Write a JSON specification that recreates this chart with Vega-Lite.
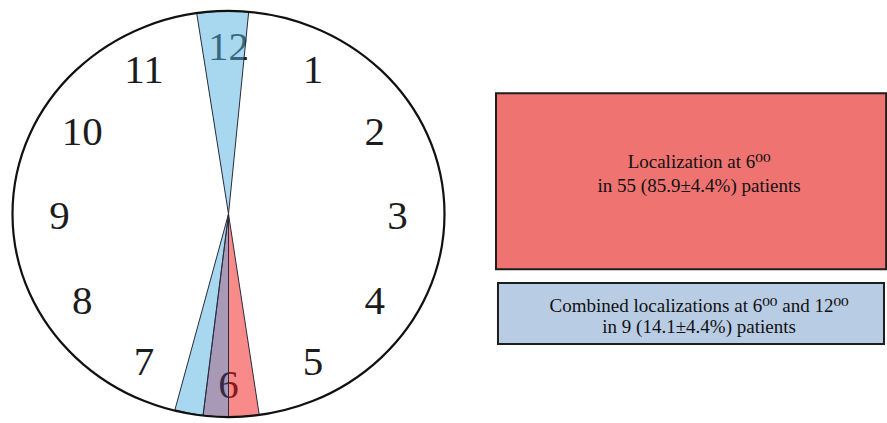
{
  "$schema": "https://vega.github.io/schema/vega-lite/v6.json",
  "background": "white",
  "padding": {"left": 0, "top": 5, "right": 0, "bottom": 0},
  "spacing": 0,
  "config": {"view": {"stroke": null}},
  "resolve": {"scale": {"color": "independent"}},
  "datasets": {
    "hours": [
      {"hour": 1, "label": "1"}, {"hour": 2, "label": "2"}, {"hour": 3, "label": "3"},
      {"hour": 4, "label": "4"}, {"hour": 5, "label": "5"}, {"hour": 6, "label": "6"},
      {"hour": 7, "label": "7"}, {"hour": 8, "label": "8"}, {"hour": 9, "label": "9"},
      {"hour": 10, "label": "10"}, {"hour": 11, "label": "11"}, {"hour": 12, "label": "12"}
    ],
    "wedges": [
      {"start": -0.30, "end": 0.19, "zone": "12 only"},
      {"start": 5.71, "end": 6.0, "zone": "6 only"},
      {"start": 6.0, "end": 6.24, "zone": "6 and 12 overlap"},
      {"start": 6.24, "end": 6.51, "zone": "6 combined"}
    ],
    "boxes": [
      {"x": 9.07, "x2": 99.8, "y": 21.1, "y2": 63.2, "group": "six"},
      {"x": 9.53, "x2": 99.3, "y": 66.5, "y2": 81.1, "group": "combined"}
    ],
    "lines": [
      {"tx": 56.3, "ty": 39.0, "text": "Localization at 6⁰⁰"},
      {"tx": 56.3, "ty": 44.8, "text": "in 55 (85.9±4.4%) patients"},
      {"tx": 56.3, "ty": 73.4, "text": "Combined localizations at 6⁰⁰ and 12⁰⁰"},
      {"tx": 56.3, "ty": 78.5, "text": "in 9 (14.1±4.4%) patients"}
    ]
  },
  "hconcat": [
    {
      "width": 457,
      "height": 418,
      "layer": [
        {
          "data": {"name": "hours"},
          "mark": {"type": "text", "radius": 169, "dy": 3, "font": "Liberation Serif", "fontSize": 41, "color": "#1c1c1c", "align": "center", "baseline": "middle"},
          "encoding": {
            "theta": {"field": "hour", "type": "quantitative", "stack": null, "scale": {"domain": [0, 12]}},
            "text": {"field": "label"}
          }
        },
        {
          "data": {"name": "wedges"},
          "mark": {"type": "arc", "radius": 203, "stroke": "#2a2a3a", "strokeWidth": 1, "fillOpacity": 0.5},
          "encoding": {
            "theta": {"field": "start", "type": "quantitative", "stack": null, "scale": {"domain": [0, 12]}},
            "theta2": {"field": "end"},
            "color": {
              "field": "zone", "type": "nominal", "legend": null,
              "scale": {"domain": ["12 only", "6 only", "6 and 12 overlap", "6 combined"], "range": ["#4fb1df", "#f31515", "#51356d", "#4fb1df"]}
            }
          }
        },
        {
          "data": {"values": [{"part": "clock face"}]},
          "mark": {
            "type": "point",
            "shape": "M1,0C1,0.5192,0.5523,0.94,0,0.94C-0.5523,0.94,-1,0.5192,-1,0C-1,-0.5192,-0.5523,-0.94,0,-0.94C0.5523,-0.94,1,-0.5192,1,0Z",
            "size": 186624,
            "filled": false,
            "stroke": "#111111",
            "strokeWidth": 2.2,
            "opacity": 1
          },
          "encoding": {}
        }
      ]
    },
    {
      "width": 430,
      "height": 418,
      "layer": [
        {
          "data": {"name": "boxes"},
          "mark": {"type": "rect", "stroke": "#1e1e1e", "strokeWidth": 2},
          "encoding": {
            "x": {"field": "x", "type": "quantitative", "scale": {"domain": [0, 100]}, "axis": null},
            "x2": {"field": "x2"},
            "y": {"field": "y", "type": "quantitative", "scale": {"domain": [0, 100], "reverse": true}, "axis": null},
            "y2": {"field": "y2"},
            "color": {"field": "group", "type": "nominal", "legend": null, "scale": {"domain": ["six", "combined"], "range": ["#ef7370", "#b8cce4"]}}
          }
        },
        {
          "data": {"name": "lines"},
          "mark": {"type": "text", "font": "Liberation Serif, DejaVu Serif", "fontSize": 19, "color": "#111111", "align": "center", "baseline": "alphabetic"},
          "encoding": {
            "x": {"field": "tx", "type": "quantitative", "scale": {"domain": [0, 100]}, "axis": null},
            "y": {"field": "ty", "type": "quantitative", "scale": {"domain": [0, 100], "reverse": true}, "axis": null},
            "text": {"field": "text"}
          }
        }
      ]
    }
  ]
}
